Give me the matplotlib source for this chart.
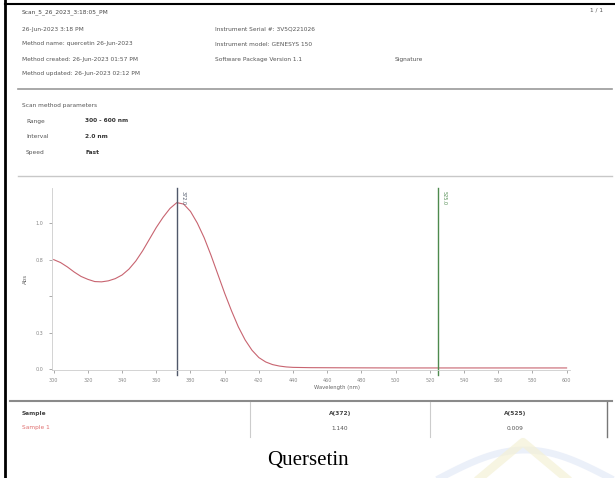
import matplotlib
matplotlib.use("Agg")
import matplotlib.pyplot as plt
import numpy as np

# spectrum (nm, Abs)
wl = [300, 304, 308, 312, 316, 320, 324, 328, 332, 336, 340, 344, 348, 352, 356, 360, 364, 368, 372,
      376, 380, 384, 388, 392, 396, 400, 404, 408, 412, 416, 420, 424, 428, 432, 436, 440, 450, 470, 500, 600]
absb = [0.75, 0.73, 0.70, 0.665, 0.635, 0.615, 0.60, 0.598, 0.605, 0.62, 0.645, 0.685, 0.74, 0.81, 0.89, 0.97, 1.04, 1.10, 1.14,
        1.13, 1.08, 1.00, 0.90, 0.78, 0.65, 0.52, 0.40, 0.29, 0.20, 0.13, 0.08, 0.05, 0.032, 0.022, 0.016, 0.013, 0.011, 0.010, 0.009, 0.009]
markers = [372, 525]
marker_cols = ['#50586a', '#4e8a4e']
xticks = list(range(300, 601, 20))
yticks = [0.0, 0.25, 0.5, 0.75, 1.0]
ylabels = ['0.0', '0.3', '', '0.8', '1.0']

header_left = ['26-Jun-2023 3:18 PM', 'Method name: quercetin 26-Jun-2023',
               'Method created: 26-Jun-2023 01:57 PM', 'Method updated: 26-Jun-2023 02:12 PM']
header_right = ['Instrument Serial #: 3V5Q221026', 'Instrument model: GENESYS 150',
                'Software Package Version 1.1']
params = [('Range', '300 - 600 nm'), ('Interval', '2.0 nm'), ('Speed', 'Fast')]
table_head = ['Sample', 'A(372)', 'A(525)']
table_row = ['Sample 1', '1.140', '0.009']

W, H = 615, 478
fig = plt.figure(figsize=(W/100, H/100), dpi=100)

def fx(x): return x / W
def fy(y): return 1 - y / H

def txt(x, y, s, **kw):
    kw.setdefault('fontsize', 4.2)
    kw.setdefault('color', '#555555')
    kw.setdefault('va', 'center')
    fig.text(fx(x), fy(y), s, **kw)

def hline(y, x0, x1, c='#9a9a9a', lw=1.2):
    fig.add_artist(plt.Line2D([fx(x0), fx(x1)], [fy(y), fy(y)], color=c, lw=lw))

def vline(x, y0, y1, c='#cccccc', lw=0.8):
    fig.add_artist(plt.Line2D([fx(x), fx(x)], [fy(y0), fy(y1)], color=c, lw=lw))

# page border
vline(5, 0, H, c='black', lw=2)
hline(4, 5, W, c='black', lw=1.5)

# header
txt(22, 12, 'Scan_5_26_2023_3:18:05_PM', color='#444444')
txt(590, 10, '1 / 1')
for i, s in enumerate(header_left):
    txt(22, 29 + i * 15, s)
for i, s in enumerate(header_right):
    txt(215, 29 + i * 15, s)
txt(395, 59, 'Signature')
hline(89, 18, 612)

txt(22, 105, 'Scan method parameters')
for i, (k, v) in enumerate(params):
    txt(26, 121 + i * 16, k)
    txt(85, 121 + i * 16, v, color='#333333', fontweight='bold')
hline(176, 18, 612, c='#c8c8c8', lw=1)

# spectrum
ax = fig.add_axes([fx(52), fy(370), fx(570) - fx(52), fy(188) - fy(370)])
ax.plot(wl, absb, color='#c86470', lw=0.8)
for m, c in zip(markers, marker_cols):
    ax.axvline(m, ymin=-0.03, ymax=1, color=c, lw=1.0, clip_on=False)
    ax.text(m + 2, 1.22, '%.1f' % m, rotation=-90, fontsize=3.5, color=c, va='top', ha='left')
ax.set_xlim(299, 602)
ax.set_ylim(-0.005, 1.24)
ax.set_xticks(xticks)
ax.set_xticklabels([str(t) for t in xticks])
ax.set_yticks(yticks)
ax.set_yticklabels(ylabels)
ax.tick_params(labelsize=3.5, colors='#888888', length=2, width=0.5, pad=4)
for s in ['top', 'right']:
    ax.spines[s].set_visible(False)
for s in ['left', 'bottom']:
    ax.spines[s].set_color('#cccccc')
    ax.spines[s].set_linewidth(0.6)
ax.set_ylabel('Abs', fontsize=4, color='#666666', labelpad=6)
ax.set_xlabel('Wavelength (nm)', fontsize=3.8, color='#666666', labelpad=1)
ax.xaxis.set_label_coords(0.55, -0.08)

# results table
hline(401, 10, 612, c='#8a8a8a', lw=1.5)
vline(250, 402, 437)
vline(430, 402, 437)
vline(607, 402, 437, c='#777777', lw=1)
txt(22, 414, table_head[0], color='#444444', fontweight='bold')
txt(340, 414, table_head[1], color='#444444', fontweight='bold', ha='center')
txt(515, 414, table_head[2], color='#444444', fontweight='bold', ha='center')
txt(22, 428, table_row[0], color='#e07070')
txt(340, 428, table_row[1], ha='center')
txt(515, 428, table_row[2], ha='center')

# faint watermark bottom right
t = np.linspace(0, 1, 50)
fig.add_artist(plt.Line2D(fx(440 + 170 * t), fy(478 - 28 * np.sin(np.pi * t)), color='#dfe6f6', lw=5, alpha=0.6))
fig.add_artist(plt.Line2D([fx(480), fx(523), fx(566)], [fy(478), fy(442), fy(478)], color='#f4f1d6', lw=6, alpha=0.7))

fig.text(0.5, fy(460), 'Quersetin', fontsize=15, family='Liberation Serif', ha='center', va='center', color='black')

fig.savefig('out.png', dpi=100)
